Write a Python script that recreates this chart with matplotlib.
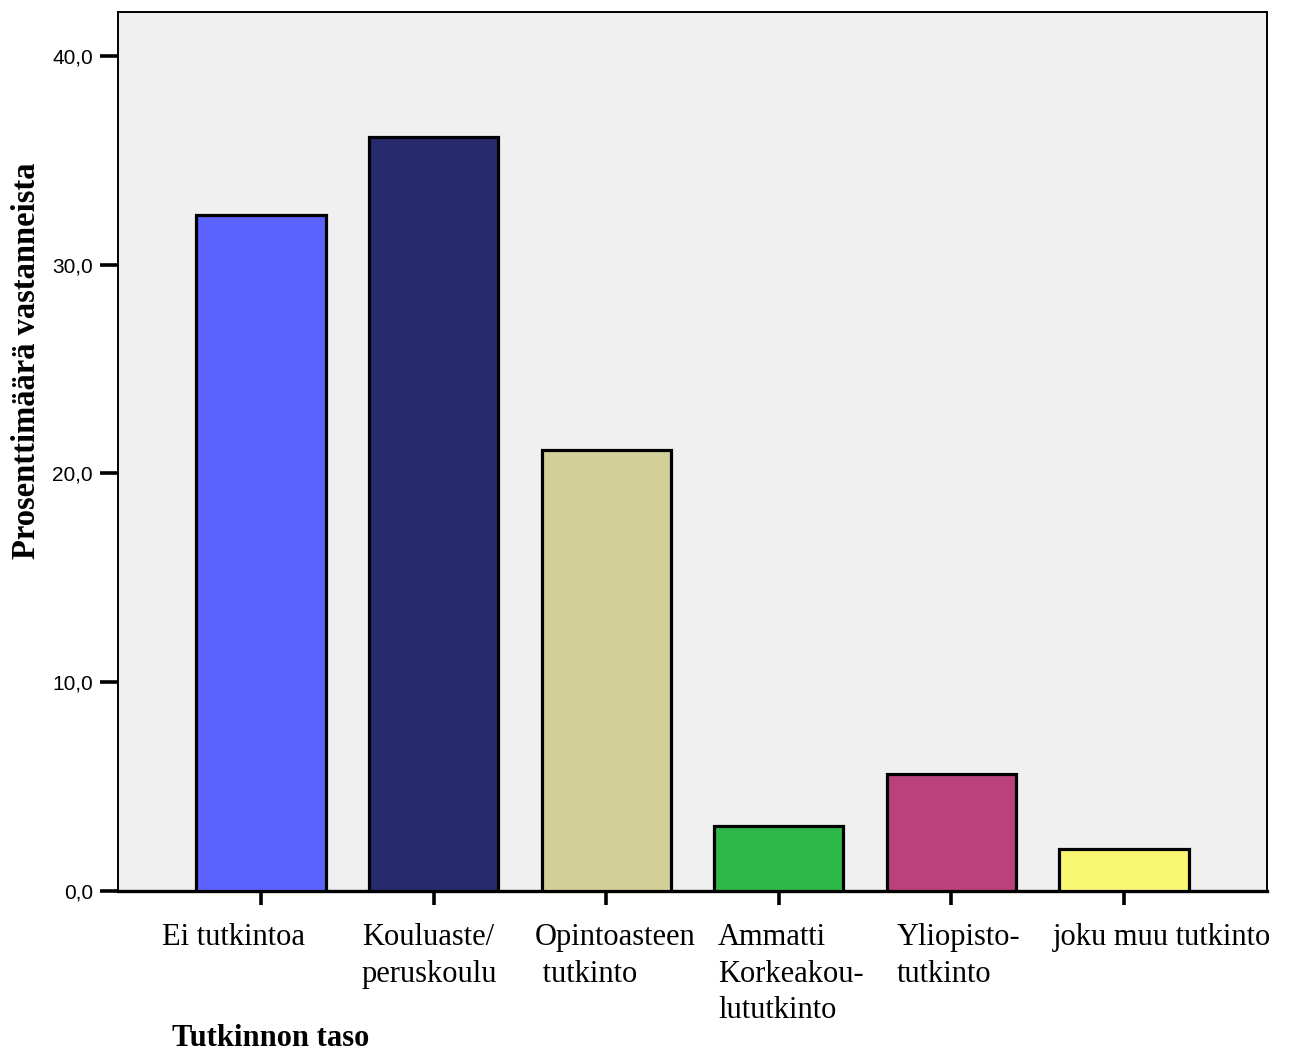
import matplotlib
matplotlib.use("Agg")
import matplotlib.pyplot as plt
import matplotlib.transforms as mtransforms

# Education level distribution (% of respondents)
categories = [
    "Ei tutkintoa",
    "Kouluaste/\nperuskoulu",
    "Opintoasteen\n tutkinto",
    "Ammatti\nKorkeakou-\nlututkinto",
    "Yliopisto-\ntutkinto",
    "joku muu tutkinto",
]
percentages = [32.4, 36.1, 21.1, 3.1, 5.6, 2.0]
bar_colors = ["#5B62FE", "#282A6E", "#D3CF98", "#2FB84A", "#BA417C", "#FAF873"]
y_ticks = [0, 10, 20, 30, 40]
y_tick_labels = ["0,0", "10,0", "20,0", "30,0", "40,0"]
# horizontal nudges (px) for category labels
label_shift_px = [-28, -4, 9, 12, 7, 38]

fig = plt.figure(figsize=(12.9, 10.55), dpi=100)
ax = fig.add_axes([118 / 1290, 1 - 891 / 1055, (1267 - 118) / 1290, (891 - 12) / 1055])
ax.set_facecolor("#F0F0F0")

x = list(range(len(categories)))
ax.bar(x, percentages, width=0.75, color=bar_colors, edgecolor="black",
       linewidth=2.3, zorder=3)

ax.set_xlim(-0.83, 5.83)
ax.set_ylim(0, 42.1)

ax.set_yticks(y_ticks)
ax.set_yticklabels(y_tick_labels, fontfamily="Liberation Sans", fontsize=15)
ax.tick_params(axis="y", direction="out", length=13, width=2.6, pad=5)

ax.set_xticks(x)
ax.set_xticklabels(categories, fontfamily="Liberation Serif", fontsize=22,
                   linespacing=1.35, va="top", multialignment="left")
ax.tick_params(axis="x", direction="out", length=10, width=2.6, pad=13)
for lbl, dx in zip(ax.get_xticklabels(), label_shift_px):
    lbl.set_transform(lbl.get_transform() +
                      mtransforms.ScaledTranslation(dx / 100, 0, fig.dpi_scale_trans))

for side in ["left", "top", "right"]:
    ax.spines[side].set_linewidth(1.4)
ax.spines["bottom"].set_linewidth(2.4)

fig.text(27 / 1290, 1 - 361 / 1055, "Prosenttimäärä vastanneista",
         rotation=90, ha="center", va="center", fontfamily="Liberation Serif",
         fontweight="bold", fontsize=23.5)
fig.text(172 / 1290, 1 - 1038 / 1055, "Tutkinnon taso", ha="left", va="center",
         fontfamily="Liberation Serif", fontweight="bold", fontsize=22)

fig.savefig("out.png", dpi=100, facecolor="white")
